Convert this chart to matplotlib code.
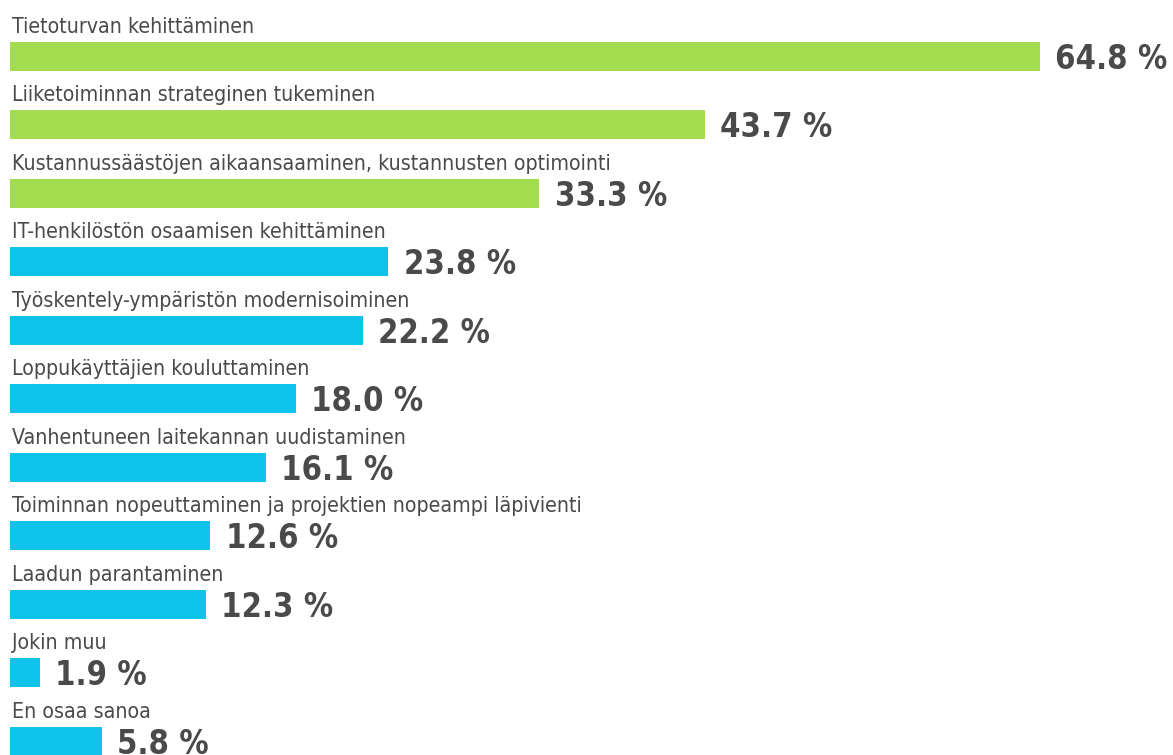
import matplotlib
matplotlib.use("Agg")
import matplotlib.pyplot as plt

# Survey answers, percent of respondents
categories = [
    "Tietoturvan kehittäminen",
    "Liiketoiminnan strateginen tukeminen",
    "Kustannussäästöjen aikaansaaminen, kustannusten optimointi",
    "IT-henkilöstön osaamisen kehittäminen",
    "Työskentely-ympäristön modernisoiminen",
    "Loppukäyttäjien kouluttaminen",
    "Vanhentuneen laitekannan uudistaminen",
    "Toiminnan nopeuttaminen ja projektien nopeampi läpivienti",
    "Laadun parantaminen",
    "Jokin muu",
    "En osaa sanoa",
]
values = [64.8, 43.7, 33.3, 23.8, 22.2, 18.0, 16.1, 12.6, 12.3, 1.9, 5.8]
n_top = 3  # first three highlighted in green

GREEN = "#a3dc4f"
BLUE = "#0fc3eb"
TEXT = "#4a4a4a"

W, H = 1173, 755
fig = plt.figure(figsize=(W / 100, H / 100), dpi=100)
ax = fig.add_axes([0, 0, 1, 1])

px_per_unit = 1030 / 64.8
pitch = 68.5
ax.set_xlim(-10 / px_per_unit, (W - 10) / px_per_unit)
ax.set_ylim((H - 56.5) / pitch, -56.5 / pitch)

ys = list(range(len(values)))
colors = [GREEN if i < n_top else BLUE for i in ys]
bar_h = 29 / pitch
ax.barh(ys, values, height=bar_h, color=colors, left=0)

for y, cat, v in zip(ys, categories, values):
    ax.text(0.15, y - (14.5 + 9) / pitch, cat, fontsize=15.3, color=TEXT,
            fontstretch="condensed", va="baseline", ha="left")
    ax.annotate(f"{v:.1f} %", xy=(v, y + 12.5 / pitch), xytext=(11, 0),
                textcoords="offset points", fontsize=23.5, fontweight="bold",
                color=TEXT, fontstretch="condensed", va="baseline", ha="left")

ax.axis("off")
fig.savefig("out.png", dpi=100)
